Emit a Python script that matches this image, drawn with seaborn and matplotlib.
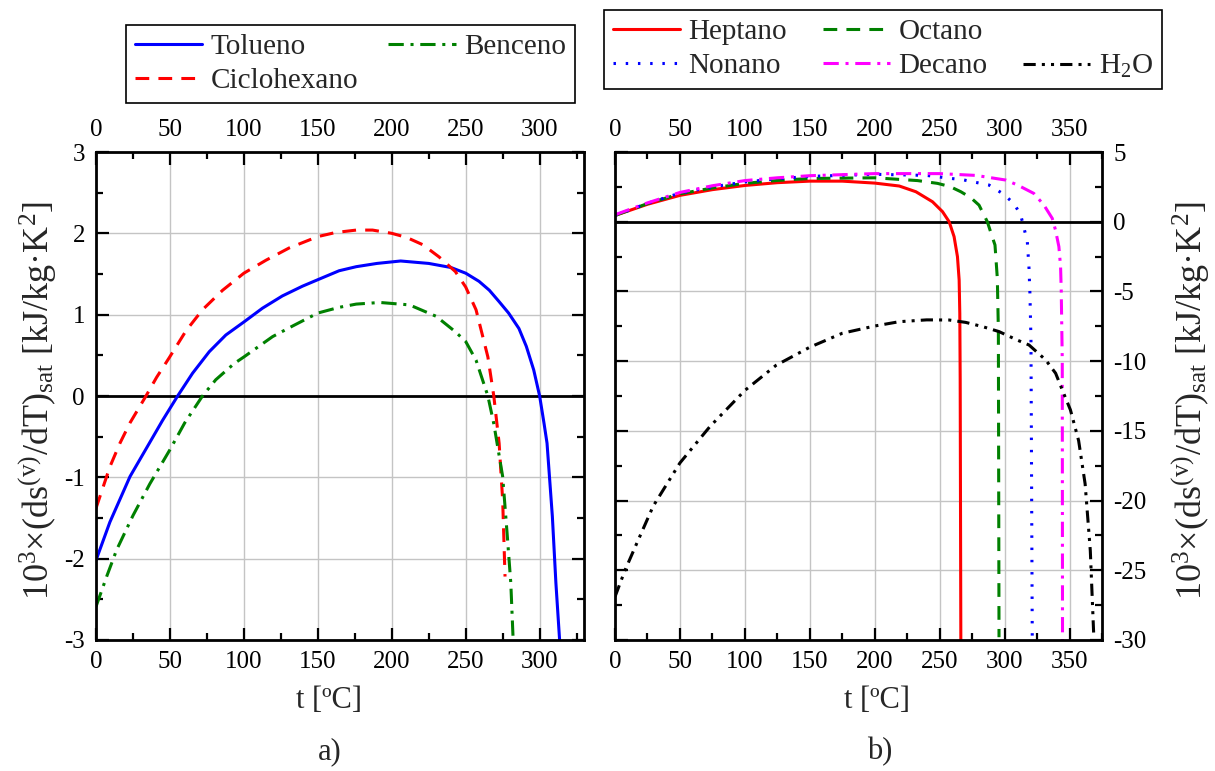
import numpy as np
import pandas as pd
import matplotlib
matplotlib.use("Agg")
import matplotlib.pyplot as plt
from matplotlib.ticker import MultipleLocator
from matplotlib.lines import Line2D
import seaborn as sns

# ---------------- data ----------------
# Panel a)
tol_t = [0, 9.4, 23, 36.4, 45, 55.2, 65.3, 76.6, 87.8, 100, 112.6, 126, 139.6, 150, 164.4, 176, 190, 206, 225, 240, 250, 259, 266, 272.6, 279, 286, 291, 296, 300, 303, 305, 308.6, 311, 313.5]
tol_v = [-2.02, -1.55, -0.99, -0.57, -0.30, 0.0, 0.28, 0.545, 0.75, 0.91, 1.08, 1.23, 1.35, 1.43, 1.54, 1.59, 1.63, 1.66, 1.63, 1.58, 1.51, 1.41, 1.30, 1.16, 1.02, 0.83, 0.61, 0.32, 0.0, -0.34, -0.58, -1.48, -2.30, -3.0]

cic_t = [0, 9.4, 16.2, 23, 33.8, 41, 49.5, 60.8, 72, 85.6, 100, 115, 130.6, 150, 162, 176, 187, 200, 210, 221, 232, 243, 250, 257, 265, 269, 272.6, 275, 276.6]
cic_v = [-1.38, -0.87, -0.58, -0.33, 0.0, 0.23, 0.47, 0.80, 1.06, 1.30, 1.51, 1.67, 1.82, 1.96, 2.01, 2.04, 2.04, 2.00, 1.95, 1.86, 1.71, 1.53, 1.34, 1.06, 0.48, 0.0, -0.58, -1.28, -2.22]

ben_t = [0, 7.2, 14, 25, 36.4, 50, 60, 72, 81, 93.5, 100, 119.4, 132.9, 150, 164.4, 176, 192, 212, 230, 243, 250, 257, 261, 265, 269, 275, 278, 280.5, 282]
ben_v = [-2.59, -2.22, -1.89, -1.47, -1.08, -0.66, -0.33, 0.0, 0.20, 0.40, 0.48, 0.73, 0.86, 1.02, 1.09, 1.13, 1.15, 1.12, 0.98, 0.79, 0.67, 0.44, 0.22, 0.0, -0.34, -0.99, -1.69, -2.30, -2.96]

# Panel b)
hep_t = [0, 25, 50, 75, 100, 125, 150, 175, 200, 218.9, 231.7, 244.5, 252.2, 257.3, 261.1, 263.7, 265, 265.5, 265.8, 266.3]
hep_v = [0.45, 1.25, 1.89, 2.30, 2.60, 2.80, 2.91, 2.91, 2.77, 2.56, 2.15, 1.43, 0.72, 0.0, -1.07, -2.51, -4.18, -6.57, -11.3, -30.0]

oct_t = [0, 25, 50, 75, 100, 125, 150, 200, 233, 248.3, 258, 266.3, 274, 280.3, 286.7, 290, 292.6, 294.4, 295.2, 295.7]
oct_v = [0.45, 1.30, 2.00, 2.42, 2.75, 2.96, 3.10, 3.15, 2.95, 2.75, 2.52, 2.15, 1.72, 1.19, 0.0, -0.95, -1.67, -4.06, -7.76, -29.8]

non_t = [0, 25, 50, 75, 100, 125, 150, 200, 240, 268.8, 288, 298.3, 307.2, 312.4, 315, 317.5, 318.8, 319.5, 320.3, 321.3]
non_v = [0.45, 1.32, 2.05, 2.50, 2.85, 3.08, 3.25, 3.40, 3.32, 2.99, 2.63, 2.03, 1.31, 0.48, -0.48, -1.43, -3.34, -5.14, -8.48, -29.8]

dec_t = [0, 25, 50, 75, 100, 125, 150, 200, 250, 278, 300.8, 310, 322.5, 330.3, 336.7, 339.2, 341.8, 343.1, 343.6, 344.4, 344.6]
dec_v = [0.50, 1.35, 2.10, 2.58, 2.95, 3.15, 3.30, 3.45, 3.45, 3.32, 2.99, 2.63, 2.03, 1.19, 0.24, -0.60, -1.79, -3.22, -4.9, -9.9, -30.0]

h2o_t = [0, 7.7, 16.6, 29.4, 50, 73, 100, 124, 150, 175, 200, 218.9, 240, 257.3, 270, 282.9, 295.7, 310, 318.8, 331.6, 339.3, 345, 350.7, 357, 362, 366, 368.7]
h2o_v = [-26.9, -25.0, -23.1, -20.4, -17.3, -14.7, -12.1, -10.3, -9.0, -8.0, -7.48, -7.17, -7.04, -7.05, -7.22, -7.52, -7.88, -8.5, -8.84, -9.91, -10.87, -12.2, -13.5, -15.7, -18.8, -23.6, -29.8]

xticks_a = [0, 50, 100, 150, 200, 250, 300]
yticks_a = [-3, -2, -1, 0, 1, 2, 3]
xticks_b = [0, 50, 100, 150, 200, 250, 300, 350]
yticks_b = [-30, -25, -20, -15, -10, -5, 0, 5]

# ---------------- style ----------------
sns.set_style("ticks")
plt.rcParams["font.family"] = ["Liberation Serif", "DejaVu Serif"]
plt.rcParams["mathtext.fontset"] = "custom"
plt.rcParams["mathtext.rm"] = "Liberation Serif"
plt.rcParams["mathtext.it"] = "Liberation Serif:italic"
plt.rcParams["mathtext.bf"] = "Liberation Serif:bold"
plt.rcParams["axes.unicode_minus"] = False

fig = plt.figure(figsize=(12.15, 7.71), dpi=100)
axA = fig.add_axes([96 / 1215, 1 - 640 / 771, 488 / 1215, 488 / 771])
axB = fig.add_axes([615 / 1215, 1 - 640 / 771, 487 / 1215, 488 / 771])

LW = 2.2


def draw(ax, t, v, label, color, ls):
    df = pd.DataFrame({"t": t, "v": v})
    sns.lineplot(data=df, x="t", y="v", ax=ax, color=color, linestyle=ls,
                 linewidth=LW, label=label, estimator=None, sort=False, legend=False)


for ax in (axA, axB):
    ax.grid(True, which="major", color="#c4c4c4", linewidth=1.0)
    ax.set_axisbelow(True)
    ax.axhline(0, color="black", linewidth=2.0, zorder=1.5)
    for s in ax.spines.values():
        s.set_linewidth(2.0)
        s.set_color("black")
    ax.tick_params(which="both", direction="in", top=True, right=True,
                   labeltop=True, width=1.6, labelsize=18, pad=8, colors="black")
    ax.tick_params(which="major", length=9)
    ax.tick_params(which="minor", length=5)

ylab = r"10$^{3}$×(ds$^{\rm (v)}$/dT)$_{\rm sat}$ [kJ/kg·K$^{2}$]"

# panel a
draw(axA, tol_t, tol_v, "Tolueno", "#0000ff", "-")
draw(axA, cic_t, cic_v, "Ciclohexano", "#ff0000", (0, (4.5, 3.0)))
draw(axA, ben_t, ben_v, "Benceno", "#008000", (0, (5, 2.2, 1, 2.2)))
axA.set_xlim(0, 330)
axA.set_ylim(-3, 3)
axA.set_xticks(xticks_a)
axA.set_yticks(yticks_a)
axA.xaxis.set_minor_locator(MultipleLocator(25))
axA.yaxis.set_minor_locator(MultipleLocator(0.5))
axA.set_xlabel("t [ºC]", fontsize=22)
axA.xaxis.set_label_coords(0.477, -0.095)
axA.set_ylabel(ylab, fontsize=26)
axA.yaxis.set_label_coords(-0.075, 0.49)

# panel b
draw(axB, hep_t, hep_v, "Heptano", "#ff0000", "-")
draw(axB, oct_t, oct_v, "Octano", "#008000", (0, (4.5, 3.0)))
draw(axB, non_t, non_v, "Nonano", "#0000ff", (0, (0.8, 3.2)))
draw(axB, dec_t, dec_v, "Decano", "#ff00ff", (0, (5, 2.2, 1, 2.2)))
draw(axB, h2o_t, h2o_v, "H$_2$O", "black", (0, (4, 2, 1, 2, 1, 2)))
axB.set_xlim(0, 375)
axB.set_ylim(-30, 5)
axB.set_xticks(xticks_b)
axB.set_yticks(yticks_b)
axB.xaxis.set_minor_locator(MultipleLocator(25))
axB.yaxis.set_minor_locator(MultipleLocator(2.5))
axB.tick_params(labelleft=False, labelright=True)
axB.yaxis.set_label_position("right")
axB.set_xlabel("t [ºC]", fontsize=22)
axB.xaxis.set_label_coords(0.538, -0.095)
axB.set_ylabel(ylab, fontsize=26, rotation=90)
axB.yaxis.set_label_coords(1.14, 0.49)

# legends
hA = {l.get_label(): l for l in axA.get_lines()}
handlesA = [hA["Tolueno"], hA["Ciclohexano"], hA["Benceno"]]
legA = fig.legend(handlesA, [h.get_label() for h in handlesA], ncol=2,
                  bbox_to_anchor=(126 / 1215, 1 - 108 / 771, 449 / 1215, 88 / 771),
                  loc="center", mode="expand", fontsize=21, frameon=True, fancybox=False,
                  edgecolor="black", framealpha=1, borderaxespad=0, handlelength=2.3,
                  handletextpad=0.3, labelspacing=0.25, borderpad=0.3)
legA.get_frame().set_linewidth(1.2)

hB = {l.get_label(): l for l in axB.get_lines()}
blank = Line2D([], [], color="none")
handlesB = [hB["Heptano"], hB["Nonano"], hB["Octano"], hB["Decano"], blank, hB["H$_2$O"]]
labelsB = ["Heptano", "Nonano", "Octano", "Decano", " ", "H$_2$O"]
legB = fig.legend(handlesB, labelsB, ncol=3,
                  bbox_to_anchor=(604 / 1215, 1 - 93 / 771, 558 / 1215, 87 / 771),
                  loc="center", mode="expand", fontsize=21, frameon=True, fancybox=False,
                  edgecolor="black", framealpha=1, borderaxespad=0, handlelength=2.3,
                  handletextpad=0.3, labelspacing=0.25, borderpad=0.3)
legB.get_frame().set_linewidth(1.2)

fig.text(330 / 1215, 1 - 752 / 771, "a)", fontsize=22, ha="center", va="center")
fig.text(880 / 1215, 1 - 752 / 771, "b)", fontsize=22, ha="center", va="center")

fig.savefig("out.png", dpi=100)
